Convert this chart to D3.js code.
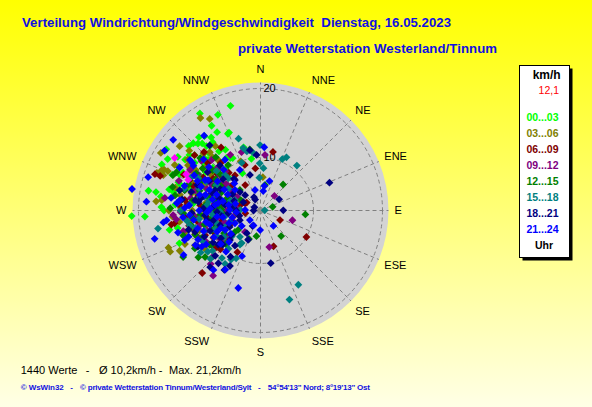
<!DOCTYPE html>
<html>
<head>
<meta charset="utf-8">
<script src="https://cdn.jsdelivr.net/npm/d3@7"></script>
<style>
    html, body { margin: 0; padding: 0; overflow: hidden; }
    svg { display: block; font-family: "Liberation Sans", Arial, sans-serif; }
</style>
</head>
<body>
<div id="chart"></div>
<script>
// ---- data ----
const titleText = "Verteilung Windrichtung/Windgeschwindigkeit  Dienstag, 16.05.2023";
const subTitleText = "private Wetterstation Westerland/Tinnum";
const directions = ["N", "NNE", "NE", "ENE", "E", "ESE", "SE", "SSE", "S", "SSW", "SW", "WSW", "W", "WNW", "NW", "NNW"];
const ringValues = [10, 20];
const hourBands = ["00...03", "03...06", "06...09", "09...12", "12...15", "15...18", "18...21", "21...24"];
const bandColors = ["#00ff00", "#808000", "#800000", "#800080", "#008000", "#008080", "#000080", "#0000ff"];
const currentSpeed = "12,1";
const valueCount = 1440;
const avgSpeed = "10,2";
const maxSpeed = "21,2";

// [direction in degrees, speed in km/h]
const h00_03 = [[344,18.1],[328,18.9],[336,17.5],[330,16.5],[338,14.5],[280,18.8],[267,19.1],[280,17.7],[272,16.7],[270,16.3],
    [331,15.3],[320,16.2],[323,15.8],[337,14.4],[312,16.3],[315,16.1],[303,18.6],[299,17.7],[295,18.1],[319,15.2],
    [320,14.5],[325,14.4],[304,15.5],[301,14.2],[288,14.6],[283,15.9],[310,14.8],[313,13.4],[320,11.9],[330,12.5],
    [300,12.5],[274,14.7],[258,14.6],[258,15.8],[294,15.2],[304,10.7],[330,11.1],[345,11.8],[350,9.9],[334,7.8],
    [248,15],[278,16.9],[267.5,21.0],[305,12],[318,13.5],[296,14.8],[312,11.6],[325,12.8],[288,13.2],[300,10.5],
    [315,9.8],[332,10.9],[308,15.4],[292,16.1],[322,14.2],[285,11.8],[310,13.1],[298,12.2],[317,15.6],[303,16.6],
    [327,11.4],[295,9.4],[282,15.2],[300,13.6],[286,12.4],[314,12.9],[292,10.9],[306,14.1],[278,13.8],[320,10.2],
    [298,15.8],[289,14.9],[309,11.2],[276,12.1],[326,15.1],[302,9.1],[316,8.7]];
const h03_06 = [[327,18.3],[331,17.5],[308.5,17.3],[300,19],[248,16.7],[245.5,16.7],[243.5,15.4],[246,14.3],[275,17.5],[276,16.7],
    [292,17.8],[293,17.5],[290,18.3],[290,17.3],[293,16.9],[302,14.7],[302,13.4],[319,13.5],[314,10.8],[281,14.2],
    [270,12.2],[255,10.6],[254,13.7],[230,8.7],[236,12.1],[338,10],[4,6.3],[289,6.1],[289,9.1],[293,11.7],
    [300,13.8],[285,15.1],[310,12.4],[275,13],[262,14.2],[295,11.2],[320,11.8],[290,9.8],[255,12.5],[270,15.6],
    [305,15.2],[280,11.4],[315,14],[250,13.6],[265,10.7],[298,16.4],[287,13.6],[325,13.7],[284,12.6],[296,14.2],
    [272,13.9],[306,11.3],[262,12.8],[318,12.7],[278,10.3],[292,12.9],[252,11.6],[300,9.7],[266,15.1],[310,15.8],
    [286,8.6],[242,13.1]];
const h06_09 = [[12,11],[353,8],[116,4.1],[120,10],[160,7.2],[209,9],[223,14.7],[234,11],[226,10.4],[289,18.5],
    [289,17.7],[328,13.1],[261,15.4],[261.5,14.9],[260,2.9],[310,14.8],[316,14.1],[341,9.1],[300,3],[295,3.2],
    [293,13.5],[275,11.1],[264,8.6],[306,8.2],[324,8.2],[285,4],[246,11.1],[278,13.4],[284.5,7.9],[309,11.7],
    [245,6.4],[329,5.6],[270,9.2],[285,10.1],[300,8.4],[260,11.6],[245,9.7],[290,12.6],[310,10.5],[275,12.9],
    [255,7.5],[280,7.1],[320,9.3],[295,14.6],[265,13.3],[235,8.1],[300,11.9],[282,5.6],[250,12.4],[310,7.2],
    [272,10.8],[288,8.5],[276,8.1],[292,9.2],[262,10.1],[304,10.6],[252,8.8],[283,11.6],[268,6.6],[296,12.3],
    [240,10.2],[312,12.6],[274,14.1],[286,6.3],[258,12.9],[230,10.6],[320,11.3],[290,3.8],[248,5.6],[302,6.2]];
const h09_12 = [[4.6,10.4],[43.6,3.8],[107,6.3],[166.5,7.1],[216,14],[223,12.9],[267,15],[331.5,11.5],[342,11.2],[277.5,16.3],
    [287,12.2],[270.6,9.5],[311,10.1],[256.5,11.3],[304,6.9],[316,12.5],[269,13.9],[260,4.9],[216,5],[232.5,9.2],
    [300,14.1],[278,8.8],[292,10.7],[265,11.9],[305,9.1],[250,10.6],[285,13.7],[270,6.3],[240,11.4],[300,12.8],
    [315,11.1],[260,8.3],[282,11.2],[295,6.6],[230,7.9],[275,14.4],[310,13.5],[255,13.9],[287,9.6],[268,10.1],
    [272,7.6],[288,8.3],[258,9.8],[298,10.4],[246,12.1],[280,12.6],[264,14.6],[308,8.1],[236,9.4],[290,14.9],
    [252,7.1],[318,9.9],[276,4.6],[226,11.9],[300,5.1],[284,10.8]];
const h12_15 = [[41,6.5],[73,2.4],[95,8.5],[141,6.2],[189,4.9],[202,5.8],[239,15.4],[233,13.6],[230,12.8],[10,4.9],
    [230,6.3],[292,16],[294.5,15.7],[311,13.9],[350,11.3],[285,13.7],[266,11.1],[299,9.8],[263,6.8],[249.5,12.4],
    [324.5,10.4],[236,11.2],[315,5.5],[271.5,15.4],[229,5.6],[277,8.1],[275,10.4],[288,11.6],[260,9.6],[300,13.1],
    [245,11.8],[282,8.9],[310,11.4],[268,13.5],[295,8.1],[250,8.9],[320,12.4],[280,14.9],[235,10.9],[290,6.7],
    [258,12.6],[305,10.2],[272,7.4],[285,15.5],[240,13.3],[270,8.6],[284,10.1],[256,10.7],[296,11.9],[248,9.9],
    [278,12.3],[302,8.9],[264,12.2],[290,13.4],[238,8.1],[312,10.2],[274,5.2],[252,14.1],[306,12.7],[226,9.1],
    [282,6.1],[298,4.2],[262,4.4]];
const h15_18 = [[343,13.2],[26,10.9],[23,10.4],[39,10.7],[4,8],[153,14.4],[162,15.9],[260,17.4],[232,12],[211,10.6],
    [207,10.1],[211,7.5],[88,0.8],[219,11.2],[213.6,11.6],[210,7.1],[218,6.3],[228,7.3],[344.5,11.7],[359.6,11.8],
    [353,10.7],[359,8.9],[347,11.1],[358,6.2],[338.5,9.7],[284,10.7],[258,12.8],[247,9.3],[315,9.5],[292,5.2],
    [297.5,12.5],[265,9.1],[250,10.9],[280,9.9],[240,9.6],[290,11.8],[255,12.1],[230,11.4],[275,12.6],[300,9.6],
    [260,6.9],[245,7.4],[285,7.6],[270,13.9],[220,9.4],[295,13.5],[262,11.3],[235,12.9],[315,8.6],[268,7.6],
    [280,11.6],[254,8.6],[290,9.2],[242,11.8],[276,10.1],[262,13.1],[298,11.2],[234,8.5],[286,13.8],[250,6.1],
    [304,7.3],[272,3.8],[226,12.4],[312,10.9],[288,5.9],[258,10.3]];
const h18_21 = [[68,13.1],[59,4.1],[334,2.8],[89.5,4.3],[169,10.1],[221.6,13.3],[218.6,12.1],[211.3,12.4],[208.8,11.5],[213,10.3],
    [231,10.2],[207,3.3],[211,5],[270,1.3],[334,2.3],[298,1.3],[322,14.3],[350,11.2],[356,10.4],[320,7.5],
    [315,4.1],[245,4.3],[279,6.8],[294,9.4],[265,10.4],[226,8],[279,11.9],[318,11.1],[203,6],[343.5,7],
    [260,10.2],[275,8.9],[245,11.3],[290,9.7],[235,9.1],[268,12.3],[282,11.1],[250,8.1],[300,10.9],[225,11.6],
    [265,6.1],[290,5.3],[240,12.8],[310,9.2],[255,13.1],[278,13.8],[230,7.1],[270,4.6],[320,7.8],[285,12.7],
    [272,10.6],[286,8.1],[258,9.1],[298,8.6],[248,10.2],[278,11.4],[236,10.6],[292,12.2],[262,7.4],[306,11.8],
    [242,6.6],[284,14.4],[252,12.3],[268,8.2],[300,6.1],[228,9.6],[276,5.6],[312,5.2],[256,4.1],[296,3.6],
    [216,8.2]];
const h21_24 = [[3.4,11.5],[9,4.7],[17,5.8],[140,3.8],[205,3.1],[181,3.7],[202,9.3],[196,14],[309,18.6],[302,18.7],
    [286.5,19.3],[279.5,21.2],[274.4,18.9],[255,18.2],[240,15.2],[263,16.5],[264,16],[8,3.7],[345,4],[242,13],
    [238.4,12.3],[218.4,13.3],[210.8,12.3],[243.3,5.4],[230.5,4.6],[323,15.9],[305.6,14.9],[303.7,14],[277.4,14.1],[266.3,12.6],
    [298.8,11.5],[277,8.6],[241,7.6],[309,6.2],[272,2.9],[325,11.3],[254,9.9],[248.7,14.1],[333,8.6],[284.4,11.4],
    [271,5.8],[228,2.7],[270,11.2],[283,9.3],[258,10.4],[295,12.4],[245,12.3],[275,14.5],[262,8.3],[300,7.9],
    [250,11.1],[288,13.9],[230,9.8],[310,12.1],[265,13.6],[280,6.1],[240,10.1],[292,10.3],[255,14.7],[305,14.4],
    [272,9.5],[318,10.3],[225,8.4],[285,4.9],[248,6.4],[298,15.6],[268,10.1],[280,8.1],[254,11.8],[292,11.6],
    [244,9.1],[274,12.7],[260,7.2],[298,13.2],[238,11.6],[286,10.6],[266,4.6],[304,9.8],[250,13.4],[278,15.4],
    [232,7.1],[296,6.9],[262,12.1],[312,13.4],[284,7.3],[246,8.2],[272,13.3],[290,8.8],[220,10.1],[300,11.1],
    [256,5.5],[316,7.1]];
const latest = [[301.5,16.9],[293,13.7],[296,14.3]];
const calm = [[0,0]];

const bandData = [h00_03, h03_06, h06_09, h09_12, h12_15, h15_18, h18_21, h21_24];

// ---- layout ----
const width = 592, height = 407;
const cx = 260.5, cy = 210.5, R = 128;

const svg = d3.select("#chart").append("svg")
    .attr("width", width)
    .attr("height", height);

const grad = svg.append("defs").append("linearGradient")
    .attr("id", "bg-gradient")
    .attr("x1", "0%").attr("y1", "0%")
    .attr("x2", "0%").attr("y2", "100%");
grad.append("stop").attr("offset", "0%").attr("stop-color", "#ffff00");
grad.append("stop").attr("offset", "100%").attr("stop-color", "#ffffe6");

svg.append("rect")
    .attr("width", width)
    .attr("height", height)
    .attr("fill", "url(#bg-gradient)");

// titles
svg.append("text")
    .attr("x", 22).attr("y", 27)
    .attr("font-size", 13.2).attr("font-weight", "bold")
    .attr("fill", "#1010e0")
    .attr("textLength", 429)
    .style("white-space", "pre")
    .text(titleText);

svg.append("text")
    .attr("x", 238).attr("y", 53)
    .attr("font-size", 13.2).attr("font-weight", "bold")
    .attr("fill", "#1010e0")
    .attr("textLength", 259)
    .text(subTitleText);

// scales
const rScale = d3.scaleLinear().domain([0, 10, 20]).range([0, 53, 122]);
const aScale = d3.scaleLinear().domain([0, 360]).range([0, 2 * Math.PI]);
const px = d => cx + rScale(d[1]) * Math.sin(aScale(d[0]));
const py = d => cy - rScale(d[1]) * Math.cos(aScale(d[0]));

const plot = svg.append("g");

plot.append("circle")
    .attr("cx", cx).attr("cy", cy).attr("r", R)
    .attr("fill", "#d3d3d3");

plot.selectAll(".ring")
    .data(ringValues)
    .enter()
    .append("circle")
    .attr("class", "ring")
    .attr("cx", cx).attr("cy", cy)
    .attr("r", d => rScale(d))
    .attr("fill", "none")
    .attr("stroke", "#808080")
    .attr("stroke-dasharray", "4,3");

plot.selectAll(".spoke")
    .data(directions)
    .enter()
    .append("line")
    .attr("class", "spoke")
    .attr("x1", cx).attr("y1", cy)
    .attr("x2", (d, i) => cx + R * Math.sin(aScale(i * 22.5)))
    .attr("y2", (d, i) => cy - R * Math.cos(aScale(i * 22.5)))
    .attr("stroke", "#808080")
    .attr("stroke-dasharray", "4,3");

// direction labels
plot.selectAll(".dir-label")
    .data(directions)
    .enter()
    .append("text")
    .attr("class", "dir-label")
    .attr("x", (d, i) => cx + 134 * Math.sin(aScale(i * 22.5)))
    .attr("y", (d, i) => cy - 141.5 * Math.cos(aScale(i * 22.5)))
    .attr("dy", "0.36em")
    .attr("text-anchor", (d, i) => {
        let s = Math.sin(aScale(i * 22.5));
        if (Math.abs(s) < 0.01) return "middle";
        return s > 0 ? "start" : "end";
    })
    .attr("font-size", 11)
    .attr("fill", "#000")
    .text(d => d);

plot.selectAll(".ring-label")
    .data(ringValues)
    .enter()
    .append("text")
    .attr("class", "ring-label")
    .attr("x", cx + 3)
    .attr("y", d => cy - rScale(d) + 3.5)
    .attr("font-size", 11)
    .attr("fill", "#000")
    .text(d => d);

// calm marker
plot.selectAll(".calm")
    .data(calm)
    .enter()
    .append("rect")
    .attr("x", d => px(d) - 2.5)
    .attr("y", d => py(d) - 2.5)
    .attr("width", 5).attr("height", 5)
    .attr("fill", "#8c8c8c");

const diamond = "M0,-3.9L3.9,0L0,3.9L-3.9,0Z";

bandData.forEach((points, k) => {
    plot.append("g")
        .selectAll("path")
        .data(points)
        .enter()
        .append("path")
        .attr("d", diamond)
        .attr("transform", d => "translate(" + px(d) + "," + py(d) + ")")
        .attr("fill", bandColors[k]);
});

plot.append("g")
    .selectAll("path")
    .data(latest)
    .enter()
    .append("path")
    .attr("d", diamond)
    .attr("transform", d => "translate(" + px(d) + "," + py(d) + ")")
    .attr("fill", "#ff00ff");

// legend
const legend = svg.append("g").attr("class", "legend");
legend.append("rect")
    .attr("x", 522.5).attr("y", 68.5)
    .attr("width", 50).attr("height", 192)
    .attr("fill", "#000");
legend.append("rect")
    .attr("x", 519.5).attr("y", 65.5)
    .attr("width", 50).attr("height", 192)
    .attr("fill", "#fff")
    .attr("stroke", "#000");

legend.append("text")
    .attr("x", 546.7).attr("y", 79)
    .attr("text-anchor", "middle")
    .attr("font-size", 12).attr("font-weight", "bold")
    .text("km/h");

legend.append("text")
    .attr("x", 559).attr("y", 94)
    .attr("text-anchor", "end")
    .attr("font-size", 10.5)
    .attr("fill", "#ff0000")
    .text(currentSpeed);

legend.selectAll(".band")
    .data(hourBands)
    .enter()
    .append("text")
    .attr("class", "band")
    .attr("x", 542.5)
    .attr("y", (d, i) => 121 + i * 16.05)
    .attr("text-anchor", "middle")
    .attr("font-size", 10.5).attr("font-weight", "bold")
    .attr("fill", (d, i) => bandColors[i])
    .text(d => d);

legend.append("text")
    .attr("x", 544).attr("y", 249.3)
    .attr("text-anchor", "middle")
    .attr("font-size", 10.5).attr("font-weight", "bold")
    .text("Uhr");

// bottom info line
const info = svg.append("g").attr("font-size", 11).attr("fill", "#000");
info.append("text").attr("x", 20.7).attr("y", 373.5).text(valueCount + " Werte");
info.append("text").attr("x", 87.5).attr("y", 373.5).attr("text-anchor", "middle").text("-");
info.append("text").attr("x", 99).attr("y", 373.5).text("\u00d8 " + avgSpeed + "km/h");
info.append("text").attr("x", 160.5).attr("y", 373.5).attr("text-anchor", "middle").text("-");
info.append("text").attr("x", 169).attr("y", 373.5).text("Max. " + maxSpeed + "km/h");

// footer
const foot = svg.append("g").attr("font-size", 8).attr("font-weight", "bold").attr("fill", "#1010e0");
foot.append("text").attr("x", 20.7).attr("y", 389.5).attr("textLength", 43).text("\u00a9 WsWin32");
foot.append("text").attr("x", 71.7).attr("y", 389.5).attr("text-anchor", "middle").text("-");
foot.append("text").attr("x", 80).attr("y", 389.5).attr("textLength", 171.5)
    .text("\u00a9 private Wetterstation Tinnum/Westerland/Sylt");
foot.append("text").attr("x", 259.3).attr("y", 389.5).attr("text-anchor", "middle").text("-");
foot.append("text").attr("x", 267.7).attr("y", 389.5).attr("textLength", 102.3)
    .text("54\u00b054'13\" Nord; 8\u00b019'13\" Ost");
</script>
</body>
</html>
